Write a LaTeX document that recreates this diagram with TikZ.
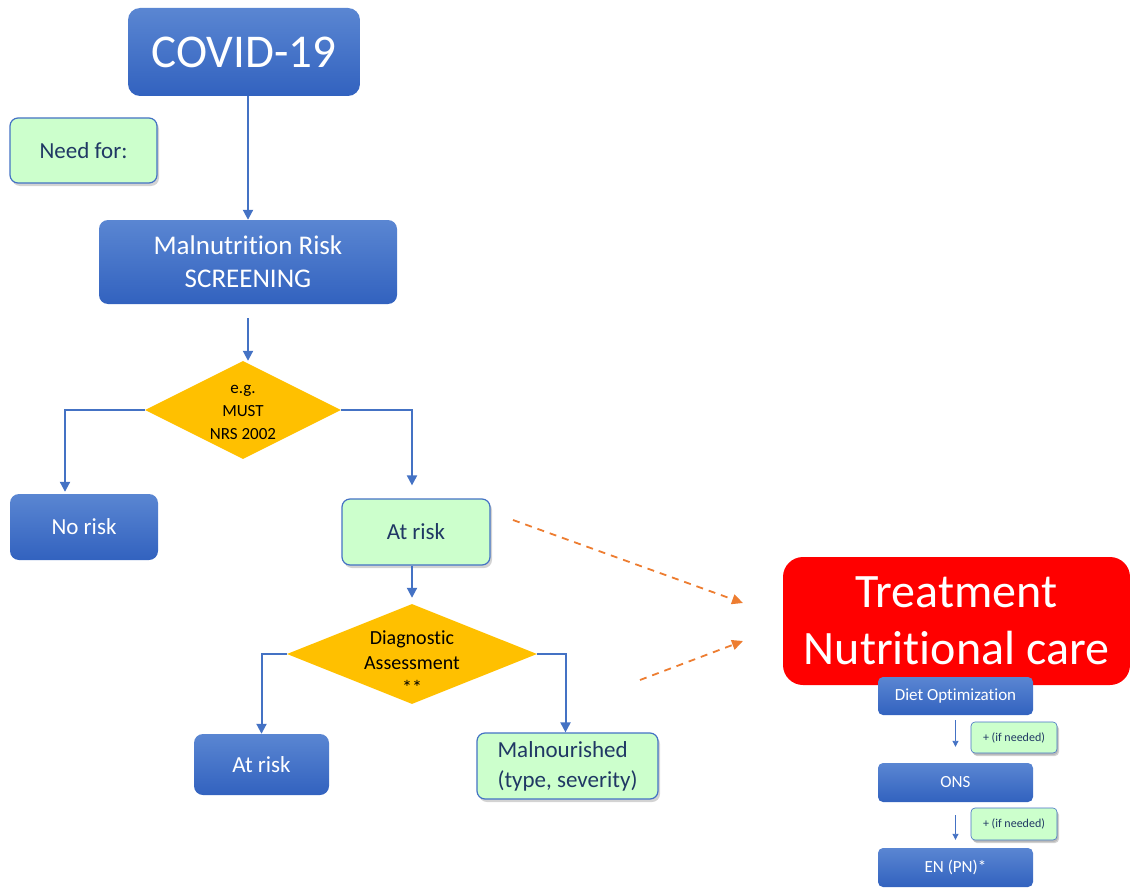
\documentclass[tikz,border=0pt]{standalone}
\usepackage{fontspec}
\setmainfont{Carlito}[Ligatures=NoCommon]
\usepackage{xcolor}
\usetikzlibrary{shapes.geometric,arrows.meta,shadows}
\definecolor{boxtop}{HTML}{5A86D2}
\definecolor{boxbot}{HTML}{3262BF}
\definecolor{mint}{HTML}{CCFFCC}
\definecolor{edge}{HTML}{4472C4}
\definecolor{inkblue}{HTML}{203864}
\definecolor{gold}{HTML}{FFC000}
\definecolor{tangerine}{HTML}{ED7D31}
\tikzset{
  bluebox/.style={rectangle,rounded corners=9pt,top color=boxtop,bottom color=boxbot,draw=none,text=white,align=center,inner sep=0pt},
  greenbox/.style={rectangle,rounded corners=8pt,fill=mint,draw=edge,line width=1.2pt,text=inkblue,align=center,inner sep=0pt,
    drop shadow={opacity=0.35,shadow xshift=2pt,shadow yshift=-3pt}},
  decision/.style={diamond,fill=gold,draw=none,inner sep=0pt,aspect=1},
  flowarrow/.style={draw=edge,line width=2pt,-{Triangle[length=10pt,width=10pt]}},
  hintarrow/.style={draw=tangerine,line width=1.8pt,dash pattern=on 7pt off 6pt,-{Triangle[length=11pt,width=10pt]}}
}
\begin{document}
\begin{tikzpicture}[x=1pt,y=-1pt]
\useasboundingbox (0,0) rectangle (1130,888);
% Screening path
\node[bluebox,minimum width=232pt,minimum height=88pt,rounded corners=12pt,font=\fontsize{47}{50}\selectfont] (cov) at (244,52) {COVID-19};
\node[greenbox,minimum width=147pt,minimum height=65pt,font=\fontsize{23}{28}\selectfont] (need) at (83.5,150.5) {Need for:};
\node[bluebox,minimum width=298pt,minimum height=84pt,font=\fontsize{27}{33}\selectfont] (scr) at (248,262) {Malnutrition Risk\\SCREENING};
\node[decision,minimum width=196pt,minimum height=98pt] (must) at (243,410) {};
\node[align=center,font=\fontsize{17}{23}\selectfont] at ([yshift=-2pt]must.center) {e.g.\\MUST\\NRS 2002};
\node[bluebox,minimum width=148pt,minimum height=66pt,font=\fontsize{23}{28}\selectfont] (norisk) at (84,527) {No risk};
\node[greenbox,minimum width=148pt,minimum height=66pt,font=\fontsize{23}{28}\selectfont] (atrisk) at (416,532) {At risk};
% Assessment
\node[decision,minimum width=250pt,minimum height=100pt] (diag) at (412,654) {};
\node[align=center,font=\fontsize{20}{25}\selectfont] at ([yshift=-9pt]diag.center) {Diagnostic\\Assessment\\**};
\node[bluebox,minimum width=135pt,minimum height=61pt,font=\fontsize{23}{28}\selectfont] (risk2) at (261.5,764.5) {At risk};
\node[greenbox,minimum width=181pt,minimum height=66pt,align=left,font=\fontsize{23}{30}\selectfont] (malnour) at (567.5,766) {Malnourished\\(type, severity)};
% Treatment
\node[rectangle,rounded corners=20pt,fill=red,text=white,align=center,minimum width=347pt,minimum height=128pt,font=\fontsize{48}{57}\selectfont] (treat) at (956.5,621) {Treatment\\Nutritional care};
\node[bluebox,rounded corners=5pt,minimum width=155pt,minimum height=38pt,font=\fontsize{17}{20}\selectfont] (diet) at (955.5,696) {Diet Optimization};
\node[bluebox,rounded corners=5pt,minimum width=155pt,minimum height=39pt,font=\fontsize{17}{20}\selectfont] (ons) at (955.5,782.5) {ONS};
\node[bluebox,rounded corners=5pt,minimum width=155pt,minimum height=39pt,font=\fontsize{17}{20}\selectfont] (enpn) at (955.5,867.5) {EN (PN)*};
\node[greenbox,rounded corners=4pt,line width=0.6pt,minimum width=86pt,minimum height=31pt,font=\fontsize{12}{14}\selectfont,
  drop shadow={opacity=0.3,shadow xshift=1pt,shadow yshift=-2pt}] (need1) at (1014,737.5) {+ (if needed)};
\node[greenbox,rounded corners=4pt,line width=0.6pt,minimum width=86pt,minimum height=32pt,font=\fontsize{12}{14}\selectfont,
  drop shadow={opacity=0.3,shadow xshift=1pt,shadow yshift=-2pt}] (need2) at (1014,824) {+ (if needed)};
% Connectors
\draw[flowarrow] (cov.south -| scr.north) -- (scr.north);
\draw[flowarrow] ([yshift=-14pt]scr.south) -- (scr.south |- must.north);
\draw[flowarrow] (must.west) -| ([xshift=-19pt,yshift=2pt]norisk.north);
\draw[flowarrow] (must.east) -| ([xshift=-4pt,yshift=13pt]atrisk.north);
\draw[flowarrow] (atrisk.south -| diag.north) -- ([yshift=6pt]diag.north);
\draw[flowarrow] (diag.west) -| (risk2.north);
\draw[flowarrow] (diag.east) -| ([xshift=-2pt]malnour.north);
\draw[edge,line width=0.9pt,-{Triangle[length=6pt,width=6pt]}] ([yshift=-5pt]diet.south) -- ([yshift=16pt]ons.north);
\draw[edge,line width=0.9pt,-{Triangle[length=6pt,width=6pt]}] ([yshift=-13pt]ons.south) -- ([yshift=8pt]enpn.north);
% Links to treatment
\coordinate (from1) at (513,520);
\coordinate (into1) at (743,603);
\coordinate (from2) at (640,680);
\coordinate (into2) at (743,641);
\draw[hintarrow] (from1) -- (into1);
\draw[hintarrow] (from2) -- (into2);
\end{tikzpicture}
\end{document}
